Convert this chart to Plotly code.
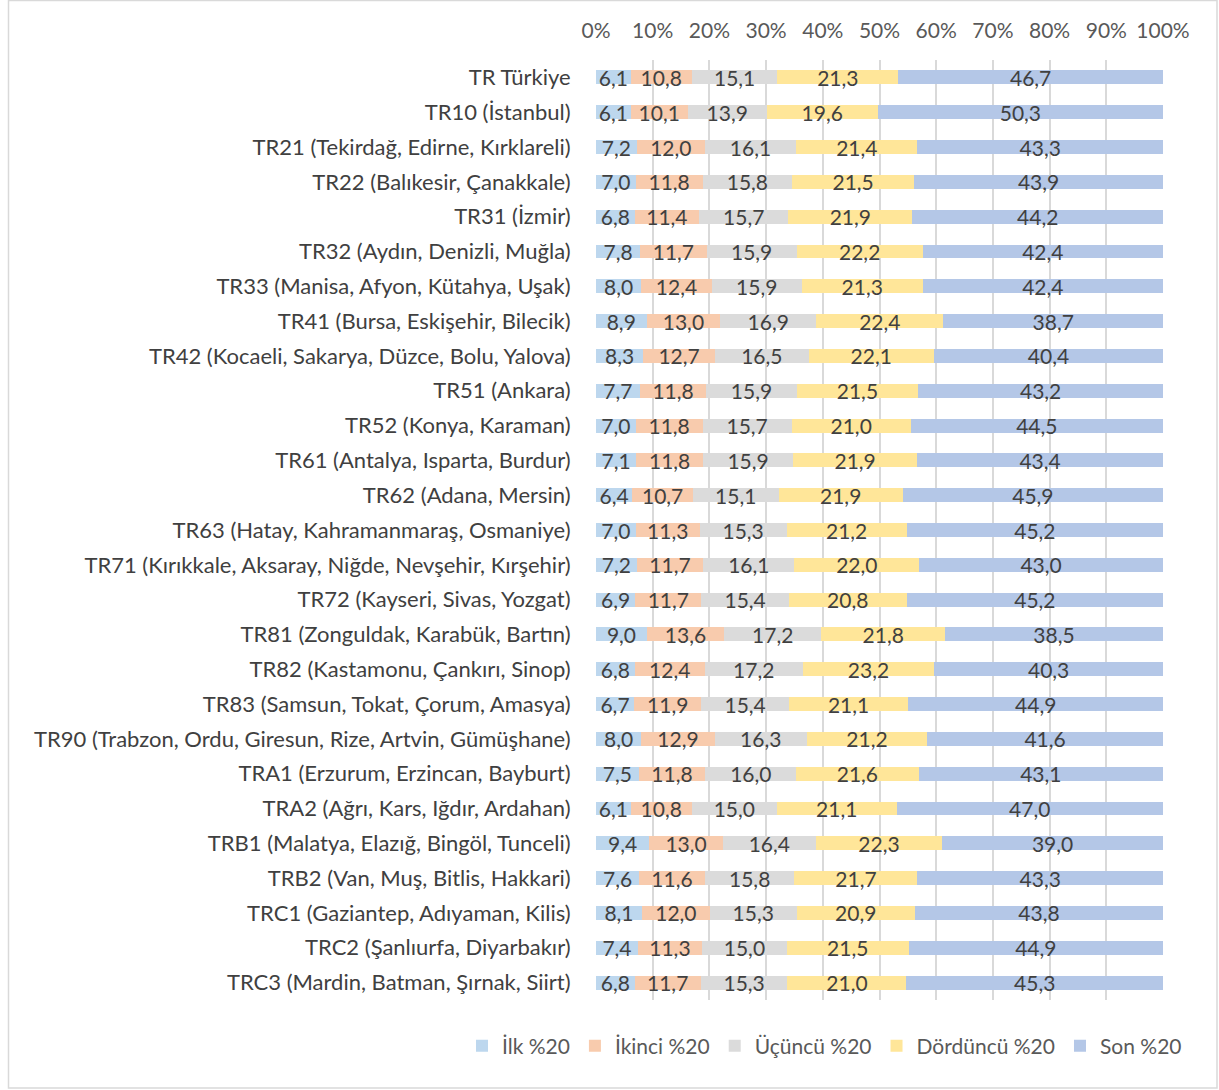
import plotly.graph_objects as go

categories = [
    "TR Türkiye", "TR10 (İstanbul)", "TR21 (Tekirdağ, Edirne, Kırklareli)",
    "TR22 (Balıkesir, Çanakkale)", "TR31 (İzmir)", "TR32 (Aydın, Denizli, Muğla)",
    "TR33 (Manisa, Afyon, Kütahya, Uşak)", "TR41 (Bursa, Eskişehir, Bilecik)",
    "TR42 (Kocaeli, Sakarya, Düzce, Bolu, Yalova)", "TR51 (Ankara)",
    "TR52 (Konya, Karaman)", "TR61 (Antalya, Isparta, Burdur)", "TR62 (Adana, Mersin)",
    "TR63 (Hatay, Kahramanmaraş, Osmaniye)",
    "TR71 (Kırıkkale, Aksaray, Niğde, Nevşehir, Kırşehir)",
    "TR72 (Kayseri, Sivas, Yozgat)", "TR81 (Zonguldak, Karabük, Bartın)",
    "TR82 (Kastamonu, Çankırı, Sinop)", "TR83 (Samsun, Tokat, Çorum, Amasya)",
    "TR90 (Trabzon, Ordu, Giresun, Rize, Artvin, Gümüşhane)",
    "TRA1 (Erzurum, Erzincan, Bayburt)", "TRA2 (Ağrı, Kars, Iğdır, Ardahan)",
    "TRB1 (Malatya, Elazığ, Bingöl, Tunceli)", "TRB2 (Van, Muş, Bitlis, Hakkari)",
    "TRC1 (Gaziantep, Adıyaman, Kilis)", "TRC2 (Şanlıurfa, Diyarbakır)",
    "TRC3 (Mardin, Batman, Şırnak, Siirt)",
]

ilk = [6.1, 6.1, 7.2, 7.0, 6.8, 7.8, 8.0, 8.9, 8.3, 7.7, 7.0, 7.1, 6.4, 7.0, 7.2, 6.9, 9.0, 6.8, 6.7, 8.0, 7.5, 6.1, 9.4, 7.6, 8.1, 7.4, 6.8]
ikinci = [10.8, 10.1, 12.0, 11.8, 11.4, 11.7, 12.4, 13.0, 12.7, 11.8, 11.8, 11.8, 10.7, 11.3, 11.7, 11.7, 13.6, 12.4, 11.9, 12.9, 11.8, 10.8, 13.0, 11.6, 12.0, 11.3, 11.7]
ucuncu = [15.1, 13.9, 16.1, 15.8, 15.7, 15.9, 15.9, 16.9, 16.5, 15.9, 15.7, 15.9, 15.1, 15.3, 16.1, 15.4, 17.2, 17.2, 15.4, 16.3, 16.0, 15.0, 16.4, 15.8, 15.3, 15.0, 15.3]
dorduncu = [21.3, 19.6, 21.4, 21.5, 21.9, 22.2, 21.3, 22.4, 22.1, 21.5, 21.0, 21.9, 21.9, 21.2, 22.0, 20.8, 21.8, 23.2, 21.1, 21.2, 21.6, 21.1, 22.3, 21.7, 20.9, 21.5, 21.0]
son = [46.7, 50.3, 43.3, 43.9, 44.2, 42.4, 42.4, 38.7, 40.4, 43.2, 44.5, 43.4, 45.9, 45.2, 43.0, 45.2, 38.5, 40.3, 44.9, 41.6, 43.1, 47.0, 39.0, 43.3, 43.8, 44.9, 45.3]

series_names = ["İlk %20", "İkinci %20", "Üçüncü %20", "Dördüncü %20", "Son %20"]
series_values = [ilk, ikinci, ucuncu, dorduncu, son]
colors = ["#BDD7EE", "#F8CBAD", "#DBDBDB", "#FFE699", "#B4C7E7"]

FONT = "Lato"
FS = 21

totals = [sum(v) for v in zip(*series_values)]

fig = go.Figure()
for name, vals, col in zip(series_names, series_values, colors):
    fig.add_trace(go.Bar(
        y=categories,
        x=[v / t * 100 for v, t in zip(vals, totals)],
        orientation="h",
        name=name,
        marker=dict(color=col, line=dict(width=0)),
        text=[f"{v:.1f}".replace(".", ",") for v in vals],
        textposition="inside",
        insidetextanchor="middle",
        textangle=0,
        textfont=dict(family=FONT, size=FS, color="#404040"),
        constraintext="none",
        hoverinfo="skip",
    ))

W, H = 1219, 1090
L, R, T, B = 596, 56, 60, 90
pw, ph = W - L - R, H - T - B

fig.update_layout(
    barmode="stack",
    bargap=0.6,
    width=W, height=H,
    margin=dict(l=L, r=R, t=T, b=B),
    paper_bgcolor="white",
    plot_bgcolor="white",
    font=dict(family=FONT, size=FS, color="#404040"),
    uniformtext=dict(mode=False),
    xaxis=dict(
        side="top",
        range=[0, 100],
        tickvals=[0, 10, 20, 30, 40, 50, 60, 70, 80, 90, 100],
        ticktext=["0%", "10%", "20%", "30%", "40%", "50%", "60%", "70%", "80%", "90%", "100%"],
        showgrid=True, gridcolor="#D9D9D9", gridwidth=1.5,
        zeroline=False, showline=False,
        tickfont=dict(family=FONT, size=FS, color="#595959"),
        ticks="outside", ticklen=13, tickcolor="rgba(0,0,0,0)",
        fixedrange=True,
    ),
    yaxis=dict(
        autorange="reversed",
        showgrid=False, zeroline=False, showline=False,
        tickfont=dict(family=FONT, size=22, color="#404040"),
        ticks="outside", ticklen=20, tickcolor="rgba(0,0,0,0)",
    ),
    legend=dict(
        orientation="h",
        x=(462 - L) / pw, xanchor="left",
        y=(H - B - 1046) / ph, yanchor="middle",
        font=dict(family=FONT, size=FS, color="#595959"),
        traceorder="normal",
        itemwidth=30,
    ),
    showlegend=True,
)

fig.add_shape(
    type="rect", xref="paper", yref="paper",
    x0=(8.5 - L) / pw, x1=(1217 - L) / pw,
    y0=(H - B - 1088) / ph, y1=(H - B - 0.5) / ph,
    line=dict(color="#D9D9D9", width=1.5),
    fillcolor="rgba(0,0,0,0)",
    layer="below",
)

fig.write_html(
    "out.html",
    config={"displayModeBar": False},
    post_script="document.body.style.margin='0px';document.body.style.overflow='hidden';",
)
